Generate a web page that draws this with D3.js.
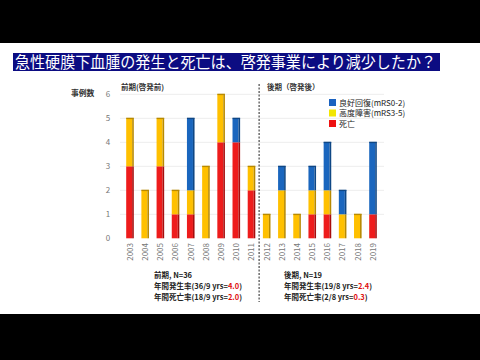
<!DOCTYPE html>
<html>
<head>
<meta charset="utf-8">
<script src="https://cdn.jsdelivr.net/npm/d3@7"></script>
<style>
  html, body { margin: 0; padding: 0; background: #000; }
  svg { display: block; }
  text { font-family: "Noto Sans CJK JP", "Noto Sans", sans-serif; }
</style>
</head>
<body>
<svg id="chart" width="480" height="360"></svg>
<script>
// Cases of acute subdural hematoma per year, split by outcome
const years = ["2003","2004","2005","2006","2007","2008","2009","2010","2011",
               "2012","2013","2014","2015","2016","2017","2018","2019"];
const death  = [3,0,3,1,1,0,4,4,2, 0,0,0,1,1,0,0,1];   // 死亡
const severe = [2,2,2,1,1,3,2,0,1, 1,2,1,1,1,1,1,0];   // 高度障害(mRS3-5)
const good   = [0,0,0,0,3,0,0,1,0, 0,1,0,1,2,1,0,3];   // 良好回復(mRS0-2)
const yTicks = [0,1,2,3,4,5,6];

const seriesKeys   = ["death","severe","good"];
const seriesLabels = { good: "良好回復(mRS0-2)", severe: "高度障害(mRS3-5)", death: "死亡" };
const barColor  = { death: "#ee1c1c", severe: "#ffc000", good: "#1a66be" };
const sideColor = { death: "#a80c0c", severe: "#b88a00", good: "#0f4785" };
const legendColor = { death: "#ee1111", severe: "#f2e600", good: "#1a62c0" };

const rows = years.map((y, i) => ({ year: y, death: death[i], severe: severe[i], good: good[i] }));

const svg = d3.select("#chart");

// slide area
svg.append("rect").attr("x", 0).attr("y", 43).attr("width", 480).attr("height", 271).attr("fill", "#fff");

// title banner
svg.append("rect").attr("x", 13).attr("y", 53).attr("width", 427).attr("height", 18).attr("fill", "#0c0c82");
svg.append("text").attr("x", 15).attr("y", 67.5)
  .attr("font-size", 15.5).attr("fill", "#fff")
  .attr("textLength", 421).attr("lengthAdjust", "spacingAndGlyphs")
  .text("急性硬膜下血腫の発生と死亡は、啓発事業により減少したか？");

// scales
const x = d3.scaleBand().domain(years).range([122.4, 380.6]).paddingInner(0.5).paddingOuter(0.25);
const y = d3.scaleLinear().domain([0, 6]).range([238.3, 94.3]);

// gridlines
svg.append("g").selectAll("line").data(yTicks.filter(d => d > 0)).join("line")
  .attr("x1", 120).attr("x2", 384)
  .attr("y1", d => y(d)).attr("y2", d => y(d))
  .attr("stroke", "#ededed").attr("stroke-width", 1);

// y axis labels
const yAxis = d3.axisLeft(y).tickValues(yTicks).tickFormat(d3.format("d")).tickSize(0).tickPadding(0);
const gy = svg.append("g").attr("transform", "translate(111,0)").call(yAxis);
gy.select(".domain").remove();
gy.selectAll("text").attr("font-size", 8).attr("fill", "#777").attr("text-anchor", "middle").attr("dx", -3);

// x axis labels (rotated)
const xAxis = d3.axisBottom(x).tickSize(0).tickPadding(0);
const gx = svg.append("g").attr("transform", "translate(0,243)").call(xAxis);
gx.select(".domain").remove();
gx.selectAll("text")
  .attr("font-size", 8).attr("fill", "#777")
  .attr("transform", "rotate(-90)")
  .attr("text-anchor", "end").attr("x", 0).attr("y", 0).attr("dx", 0).attr("dy", "0.35em");

// stacked bars
const stack = d3.stack().keys(seriesKeys)(rows);
const bw = x.bandwidth();
const side = 1.6;
const gBars = svg.append("g");
stack.forEach(layer => {
  const key = layer.key;
  const g = gBars.append("g");
  const segs = layer.filter(d => d[1] > d[0]);
  g.selectAll("rect.face").data(segs).join("rect").attr("class", "face")
    .attr("x", d => x(d.data.year))
    .attr("y", d => y(d[1]))
    .attr("width", bw - side)
    .attr("height", d => y(d[0]) - y(d[1]))
    .attr("fill", barColor[key]);
  g.selectAll("rect.side").data(segs).join("rect").attr("class", "side")
    .attr("x", d => x(d.data.year) + bw - side)
    .attr("y", d => y(d[1]))
    .attr("width", side)
    .attr("height", d => y(d[0]) - y(d[1]))
    .attr("fill", sideColor[key]);
});
// dark rim on top of each bar
gBars.append("g").selectAll("rect").data(rows).join("rect")
  .attr("x", d => x(d.year))
  .attr("y", d => y(d.death + d.severe + d.good) - 0.6)
  .attr("width", bw)
  .attr("height", 1.4)
  .attr("fill", d => sideColor[d.good > 0 ? "good" : (d.severe > 0 ? "severe" : "death")]);

// divider between periods
const divX = (x("2011") + bw + x("2012")) / 2;
svg.append("line").attr("x1", divX).attr("x2", divX).attr("y1", 84).attr("y2", 302)
  .attr("stroke", "#222").attr("stroke-width", 1).attr("stroke-dasharray", "2,1.5");

// axis caption and period headings
svg.append("text").attr("x", 71).attr("y", 96).attr("font-size", 7.8).attr("font-weight", "bold").attr("fill", "#333").text("事例数");
svg.append("text").attr("x", 121).attr("y", 90).attr("font-size", 7.5).attr("font-weight", "bold").attr("fill", "#333").text("前期(啓発前)");
svg.append("text").attr("x", 267).attr("y", 90).attr("font-size", 7.5).attr("font-weight", "bold").attr("fill", "#333").text("後期（啓発後）");

// legend
const legendKeys = ["good", "severe", "death"];
const lg = svg.append("g").attr("transform", "translate(329,99)");
legendKeys.forEach((k, i) => {
  lg.append("rect").attr("x", 0).attr("y", i * 10.5).attr("width", 7).attr("height", 7).attr("fill", legendColor[k]);
  lg.append("text").attr("x", 10).attr("y", i * 10.5 + 6.5).attr("font-size", 8).attr("fill", "#222").text(seriesLabels[k]);
});

// period summaries
const summaries = [
  { x: 154, lines: [["前期, N=36", ""], ["年間発生率(36/9 yrs=", "4.0", ")"], ["年間死亡率(18/9 yrs=", "2.0", ")"]] },
  { x: 284, lines: [["後期, N=19", ""], ["年間発生率(19/8 yrs=", "2.4", ")"], ["年間死亡率(2/8 yrs=", "0.3", ")"]] }
];
summaries.forEach(s => {
  s.lines.forEach((ln, i) => {
    const t = svg.append("text").attr("x", s.x).attr("y", 277.5 + i * 11)
      .attr("font-size", 7.5).attr("font-weight", "bold").attr("fill", "#222");
    t.append("tspan").text(ln[0]);
    if (ln[1]) t.append("tspan").attr("fill", "#e01010").text(ln[1]);
    if (ln[2]) t.append("tspan").text(ln[2]);
  });
});
</script>
</body>
</html>
